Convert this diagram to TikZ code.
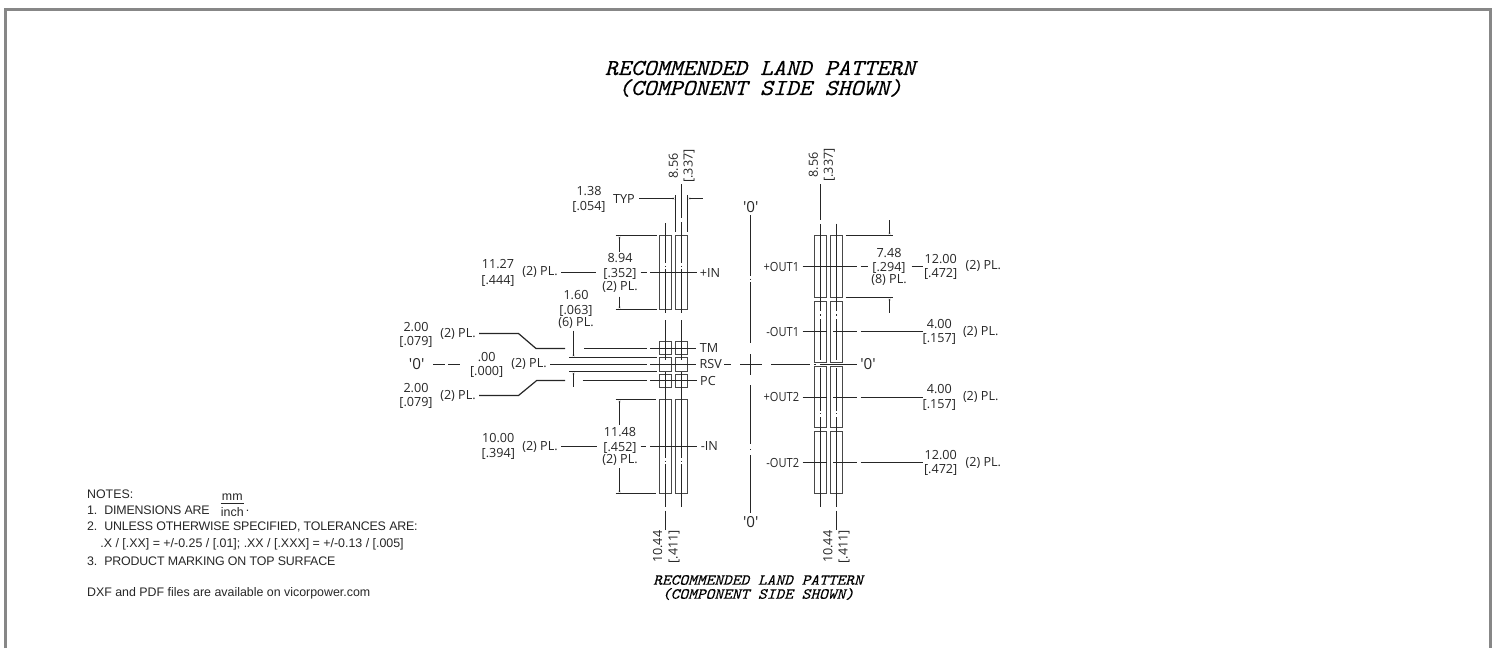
\documentclass[tikz,border=0pt]{standalone}
\usepackage{fontspec}
\setmainfont{Liberation Sans}
\newfontfamily\dimfont{Open Sans}
\newfontfamily\titlefont[FakeBold=0.25]{Latin Modern Mono}
\usetikzlibrary{arrows.meta}
\definecolor{inkgray}{gray}{0.15}
\definecolor{framegray}{gray}{0.53}
\newcommand{\tightcaps}{\addfontfeature{LetterSpace=-1.4}}
\newcommand{\bigtitle}[1]{\scalebox{1.08}[1]{\titlefont\itshape\fontsize{11.4}{10}\selectfont #1}}
\newcommand{\subtitle}[1]{\scalebox{1.08}[1]{\titlefont\itshape\fontsize{7.7}{8}\selectfont #1}}
\tikzset{
    dimtext/.style={inner sep=0pt, text=inkgray, font=\dimfont\fontsize{6.3}{7}\selectfont},
    datumtext/.style={dimtext, font=\dimfont\fontsize{7.6}{8}\selectfont},
    notetext/.style={inner sep=0pt, anchor=west, text=inkgray, font=\fontsize{6.2}{7}\selectfont},
    titletext/.style={inner sep=0pt, text=black},
    padbox/.style={draw=inkgray!85, line width=0.7pt, minimum width=6pt, inner sep=0pt, outer sep=0pt},
    cline/.style={draw=inkgray, line width=0.6pt},
    dimarrow/.style={cline, -{Stealth[length=3pt,width=1pt]}},
}
\begin{document}
\begin{tikzpicture}[x=0.5pt, y=-0.5pt]  % one unit is one pixel of the sheet, y runs down
    \useasboundingbox (0,0) rectangle (1499,648);

    % Sheet frame, open at the bottom
    \draw[framegray, line width=1.3pt] (5.3,648) -- (5.3,9.5) -- (1490.5,9.5) -- (1490.5,648);

    % Titles
    \node[titletext] (titleA) at (760,68) {\bigtitle{RECOMMENDED LAND PATTERN}};
    \node[titletext] (titleB) at (760,88) {\bigtitle{(COMPONENT SIDE SHOWN)}};
    \node[titletext] (subA) at (758,580) {\subtitle{RECOMMENDED LAND PATTERN}};
    \node[titletext] (subB) at (758,594) {\subtitle{(COMPONENT SIDE SHOWN)}};

    % Lands
    \foreach \name/\cy/\h in {inP/272.5/74, tm/348/13, rsv/364.5/14, pc/381/13, inM/446.5/94} {
        \node[padbox, minimum height=\h*0.5pt] (\name A) at (665.5,\cy) {};
        \node[padbox, minimum height=\h*0.5pt] (\name B) at (681.5,\cy) {};
    }
    \foreach \name/\cy/\h in {outA/266.5/62, outB/332/61, outC/397/61, outD/462.5/62} {
        \node[padbox, minimum height=\h*0.5pt] (\name A) at (820.5,\cy) {};
        \node[padbox, minimum height=\h*0.5pt] (\name B) at (836.5,\cy) {};
    }

    % Centre lines of the land columns
    \foreach \x/\ya/\yb in {665.5/223/263, 665.5/265.5/266.5, 665.5/269/313, 665.5/320/360, 665.5/372/458, 665.5/460.5/461.5, 665.5/464/506.7, 665.5/510.7/530,
                            681.5/184/218, 681.5/222/263, 681.5/265.5/266.5, 681.5/269/313, 681.5/320/360, 681.5/372/458, 681.5/460.5/461.5, 681.5/464/506.7,
                            820.5/184/220, 820.5/224/311, 820.5/314/316, 820.5/319/360, 820.5/368/411, 820.5/413/414, 820.5/417/506.7,
                            836.5/223.7/311, 836.5/314/316, 836.5/319/360, 836.5/368/411, 836.5/413/414, 836.5/417/506.7, 836.5/510.7/530} {
        \draw[cline] (\x,\ya) -- (\x,\yb);
    }

    % Datum lines
    \foreach \ya/\yb in {215/276, 278.5/279.5, 282/343, 354/375, 385/444, 449/450, 455/512.7} {
        \draw[cline] (750.5,\ya) -- (750.5,\yb);
    }
    \foreach \xa/\xb in {729/731, 740/761.7, 771.3/810, 814/816, 820/857} {
        \draw[cline] (\xa,364.5) -- (\xb,364.5);
    }

    % Labels of the dimensions
    \foreach \name/\x/\y/\txt in {
        twoA/416/326.7/{2.00}, twoAi/416/342/{[.079]}, twoApl/458/334/{(2) PL.},
        twoB/416/388/{2.00}, twoBi/416/403/{[.079]}, twoBpl/458/396/{(2) PL.},
        zeroA/486.7/356.7/{.00}, zeroAi/486.7/371.7/{[.000]}, zeroApl/529/364.3/{(2) PL.},
        tolA/589/190.7/{1.38}, tolAi/589/206.7/{[.054]}, typ/624/198.7/{TYP},
        wideA/498/264/{11.27}, wideAi/498/280.7/{[.444]}, wideApl/540/272.4/{(2) PL.},
        highA/620/258.3/{8.94}, highAi/620/274.3/{[.352]}, highApl/620/286.7/{(2) PL.},
        padA/576/295/{1.60}, padAi/576/310.7/{[.063]}, padApl/576/322.7/{(6) PL.},
        wideB/498.3/438.3/{10.00}, wideBi/498.3/454.3/{[.394]}, wideBpl/540/446.7/{(2) PL.},
        highB/620/432.3/{11.48}, highBi/620/448.3/{[.452]}, highBpl/620/460.3/{(2) PL.},
        highC/889/252.7/{7.48}, highCi/889/268.3/{[.294]}, highCpl/889/280.3/{(8) PL.},
        outAd/940.7/258.7/{12.00}, outAi/940.7/274.3/{[.472]}, outApl/983.3/266/{(2) PL.},
        outBd/939.3/324.3/{4.00}, outBi/939.3/339.3/{[.157]}, outBpl/980.7/331.7/{(2) PL.},
        outCd/939.3/389.3/{4.00}, outCi/939.3/405/{[.157]}, outCpl/980.7/397/{(2) PL.},
        outDd/940.7/454.7/{12.00}, outDi/940.7/470/{[.472]}, outDpl/983.3/462.7/{(2) PL.},
        sigInP/710/272.7/{+IN}, sigTM/709/348/{TM}, sigRSV/710.7/364.3/{RSV}, sigPC/708/380.7/{PC}, sigInM/709.3/446/{-IN}} {
        \node[dimtext] (\name) at (\x,\y) {\txt};
    }
    \foreach \name/\y/\txt in {sigOutA/266.7/{+OUT1}, sigOutB/331.7/{-OUT1}, sigOutC/397/{+OUT2}, sigOutD/462.7/{-OUT2}} {
        \node[dimtext, anchor=east] (\name) at (799.5,\y) {\scalebox{0.88}[1]{\txt}};
    }

    % Datum marks are a little larger
    \node[datumtext] (datumL) at (416.7,364.3) {'0'};
    \node[datumtext] (datumT) at (750.7,206.7) {'0'};
    \node[datumtext] (datumB) at (750.7,522.3) {'0'};
    \node[datumtext] (datumR) at (868,364.3) {'0'};

    % Rotated labels
    \foreach \name/\x/\y/\txt in {widthA/673.3/166/{8.56}, widthAi/689/166/{[.337]}, widthB/813.3/165/{8.56}, widthBi/829.3/165/{[.337]},
                                  lenA/657.7/546.7/{10.44}, lenAi/674/546.7/{[.411]}, lenB/828/546.7/{10.44}, lenBi/844/546.7/{[.411]}} {
        \node[dimtext, rotate=90] (\name) at (\x,\y) {\txt};
    }

    % Leaders of the signal rows, left lands
    \draw[cline] ([xshift=1.5pt]wideApl.east |- 0,272.5) -- (596,272.5);
    \draw[cline] (640.7,272.5) -- (646.7,272.5);
    \draw[cline] (650,272.5) -- ([xshift=-1.5pt]sigInP.west |- 0,272.5);
    \draw[cline] ([xshift=1.5pt]wideBpl.east |- 0,446.5) -- (597.3,446.5);
    \draw[cline] (640.7,446.5) -- (645.7,446.5);
    \draw[cline] (650,446.5) -- ([xshift=-1.5pt]sigInM.west |- 0,446.5);
    \draw[cline] ([xshift=1.5pt]twoApl.east |- 0,333.5) -- (518.5,333.5) -- (536,348.5) -- (565,348.5);
    \draw[cline] (584,348.5) -- (646.7,348.5);
    \draw[cline] (650,348.5) -- ([xshift=-1.5pt]sigTM.west |- 0,348.5);
    \draw[cline] ([xshift=1.5pt]twoBpl.east |- 0,395.5) -- (518.5,395.5) -- (536.7,380.5) -- (565,380.5);
    \draw[cline] (582.7,380.5) -- (646.7,380.5);
    \draw[cline] (650,380.5) -- ([xshift=-1.5pt]sigPC.west |- 0,380.5);
    \draw[cline] ([xshift=1.5pt]zeroApl.east |- 0,364.5) -- (646.7,364.5);
    \draw[cline] (650,364.5) -- ([xshift=-1.5pt]sigRSV.west |- 0,364.5);
    \draw[cline] (433,364.5) -- (445,364.5);
    \draw[cline] (448,364.5) -- (460,364.5);
    \draw[cline] ([xshift=1pt]sigRSV.east |- 0,364.5) -- (731,364.5);

    % Leaders of the signal rows, right lands
    \draw[cline] ([xshift=1.5pt]sigOutA.east |- 0,266.5) -- (856.7,266.5);
    \draw[cline] (860.7,266.5) -- (867.7,266.5);
    \draw[cline] (911.7,266.5) -- (922.7,266.5);
    \foreach \lbl/\y in {sigOutB/331.5, sigOutC/397.5, sigOutD/462.5} {
        \draw[cline] ([xshift=1.5pt]\lbl.east |- 0,\y) -- (826.7,\y);
        \draw[cline] (833,\y) -- (856.7,\y);
        \draw[cline] (860.7,\y) -- (922.7,\y);
    }

    % Extension lines
    \foreach \xa/\xb/\y in {615.7/656.7/235.5, 615.7/656.7/309.5, 615.7/655.7/399.5, 615.7/655.7/493.5,
                            569/656.7/357.5, 569/656.7/371.5, 845.7/893.3/235.5, 845.7/893.3/297.5} {
        \draw[cline] (\xa,\y) -- (\xb,\y);
    }
    \draw[cline] (675.5,195) -- (675.5,232.3);
    \draw[cline] (687.5,195) -- (687.5,232.3);

    % Dimension arrows
    \draw[dimarrow] ([xshift=2pt]typ.east |- 0,198.5) -- (675.5,198.5);
    \draw[dimarrow] (702.7,198.5) -- (687.5,198.5);
    \draw[dimarrow] (619.5,251.7) -- (619.5,235.5);
    \draw[dimarrow] (619.5,296.7) -- (619.5,309.5);
    \draw[dimarrow] (619.5,425) -- (619.5,399.5);
    \draw[dimarrow] (619.5,468.3) -- (619.5,493.5);
    \draw[dimarrow] (573.5,330.7) -- (573.5,357.5);
    \draw[dimarrow] (573.5,386.7) -- (573.5,371.5);
    \draw[dimarrow] (889.5,220) -- (889.5,235.5);
    \draw[dimarrow] (889.5,312.7) -- (889.5,297.5);

    % Notes
    \node[notetext] (noteHead) at (86.7,494) {NOTES:};
    \node[notetext] (noteA) at (86.7,510.7) {1.\ \ \tightcaps DIMENSIONS ARE};
    \node[notetext] (noteB) at (86.7,527) {2.\ \ \tightcaps UNLESS OTHERWISE SPECIFIED, TOLERANCES ARE:};
    \node[notetext] (noteC) at (100,544.3) {.X / [.XX] = +/-0.25 / [.01]; .XX / [.XXX] = +/-0.13 / [.005]};
    \node[notetext] (noteD) at (86.7,561) {3.\ \ \tightcaps PRODUCT MARKING ON TOP SURFACE};
    \node[notetext] (noteE) at (86.7,593.3) {DXF and PDF files are available on vicorpower.com};
    \node[notetext, anchor=center] (unitTop) at (232.3,497) {mm};
    \node[notetext, anchor=center] (unitBot) at (232.3,511.7) {inch};
    \node[notetext] (unitDot) at (245.5,510.7) {.};
    \draw[inkgray, line width=0.5pt] (220.7,503.5) -- (244,503.5);
\end{tikzpicture}
\end{document}
